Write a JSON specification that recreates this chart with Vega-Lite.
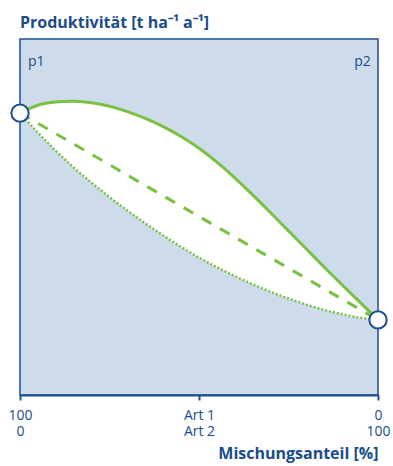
{
  "$schema": "https://vega.github.io/schema/vega-lite/v6.json",
  "width": 358,
  "height": 356,
  "autosize": "none",
  "padding": {"left": 20, "top": 39, "right": 15, "bottom": 71},
  "title": {
    "text": "Produktivität [t ha⁻¹ a⁻¹]",
    "anchor": "start",
    "frame": "group",
    "font": "Open Sans",
    "fontSize": 16,
    "fontWeight": "bold",
    "color": "#1a4b8c",
    "offset": 8
  },
  "config": {
    "view": {"fill": "#cddbeb", "stroke": "#1c4f8f", "strokeWidth": 1.5},
    "font": "Open Sans"
  },
  "datasets": {
    "curves": [
      {"x": 0, "upper": 79.2, "lower": 79.2},
      {"x": 5, "upper": 81.4, "lower": 73.7},
      {"x": 10, "upper": 82.3, "lower": 68.6},
      {"x": 15, "upper": 82.5, "lower": 63.9},
      {"x": 20, "upper": 82.1, "lower": 59.6},
      {"x": 25, "upper": 81.1, "lower": 55.6},
      {"x": 30, "upper": 79.6, "lower": 51.8},
      {"x": 35, "upper": 77.7, "lower": 48.2},
      {"x": 40, "upper": 75.4, "lower": 44.8},
      {"x": 45, "upper": 72.6, "lower": 41.6},
      {"x": 50, "upper": 69.3, "lower": 38.6},
      {"x": 55, "upper": 65.4, "lower": 35.9},
      {"x": 60, "upper": 61.0, "lower": 33.4},
      {"x": 65, "upper": 56.2, "lower": 31.1},
      {"x": 70, "upper": 51.2, "lower": 29.0},
      {"x": 75, "upper": 46.1, "lower": 27.1},
      {"x": 80, "upper": 41.0, "lower": 25.4},
      {"x": 85, "upper": 35.9, "lower": 23.9},
      {"x": 90, "upper": 30.9, "lower": 22.7},
      {"x": 95, "upper": 26.0, "lower": 21.7},
      {"x": 100, "upper": 21.1, "lower": 21.1}
    ],
    "ends": [
      {"x": 0, "y": 79.2},
      {"x": 100, "y": 21.1}
    ]
  },
  "encoding": {
    "x": {
      "field": "x",
      "type": "quantitative",
      "scale": {"domain": [0, 100], "nice": false, "zero": false},
      "axis": {
        "values": [0, 50, 100],
        "labelExpr": "datum.value == 0 ? ['100','0'] : datum.value == 50 ? ['Art 1','Art 2'] : ['0','100']",
        "labelFlush": false,
        "labelFont": "Open Sans",
        "labelFontSize": 14,
        "labelLineHeight": 16,
        "labelColor": "#1a4b8c",
        "labelPadding": 8,
        "labelOverlap": false,
        "grid": false,
        "domainColor": "#1c4f8f",
        "domainWidth": 2,
        "tickColor": "#1c4f8f",
        "tickWidth": 2,
        "tickSize": 5,
        "title": "Mischungsanteil [%]",
        "titleFont": "Open Sans",
        "titleFontSize": 16,
        "titleFontWeight": "bold",
        "titleColor": "#1a4b8c",
        "titleAnchor": "end",
        "titlePadding": 7
      }
    }
  },
  "layer": [
    {
      "data": {"name": "curves"},
      "mark": {"type": "area", "color": "white", "interpolate": "natural"},
      "encoding": {
        "y": {
          "field": "upper",
          "type": "quantitative",
          "scale": {"domain": [0, 100], "nice": false},
          "axis": {"domainColor": "#1c4f8f", "domainWidth": 2, "ticks": false, "labels": false, "grid": false, "title": null}
        },
        "y2": {"field": "lower"}
      }
    },
    {
      "data": {"name": "curves"},
      "mark": {"type": "line", "color": "#7ac143", "strokeWidth": 2.5, "strokeDash": [2, 2], "interpolate": "natural"},
      "encoding": {
        "y": {"field": "lower", "type": "quantitative", "scale": {"domain": [0, 100], "nice": false}, "axis": null}
      }
    },
    {
      "data": {"name": "ends"},
      "mark": {"type": "line", "color": "#7ac143", "strokeWidth": 3, "strokeDash": [11, 10]},
      "encoding": {
        "y": {"field": "y", "type": "quantitative", "scale": {"domain": [0, 100], "nice": false}, "axis": null}
      }
    },
    {
      "data": {"name": "curves"},
      "mark": {"type": "line", "color": "#7ac143", "strokeWidth": 3, "interpolate": "natural"},
      "encoding": {
        "y": {"field": "upper", "type": "quantitative", "scale": {"domain": [0, 100], "nice": false}, "axis": null}
      }
    },
    {
      "data": {"name": "ends"},
      "mark": {"type": "point", "filled": true, "fill": "white", "stroke": "#1c4f8f", "strokeWidth": 2, "size": 300, "opacity": 1},
      "encoding": {
        "y": {"field": "y", "type": "quantitative", "scale": {"domain": [0, 100], "nice": false}, "axis": null}
      }
    },
    {
      "data": {"values": [{"x": 2.2, "y": 92.5, "label": "p1"}]},
      "mark": {"type": "text", "font": "Open Sans", "fontSize": 14, "color": "#1a4b8c", "baseline": "alphabetic", "align": "left"},
      "encoding": {
        "y": {"field": "y", "type": "quantitative", "scale": {"domain": [0, 100], "nice": false}, "axis": null},
        "text": {"field": "label"}
      }
    },
    {
      "data": {"values": [{"x": 98.0, "y": 92.5, "label": "p2"}]},
      "mark": {"type": "text", "font": "Open Sans", "fontSize": 14, "color": "#1a4b8c", "baseline": "alphabetic", "align": "right"},
      "encoding": {
        "y": {"field": "y", "type": "quantitative", "scale": {"domain": [0, 100], "nice": false}, "axis": null},
        "text": {"field": "label"}
      }
    }
  ]
}
